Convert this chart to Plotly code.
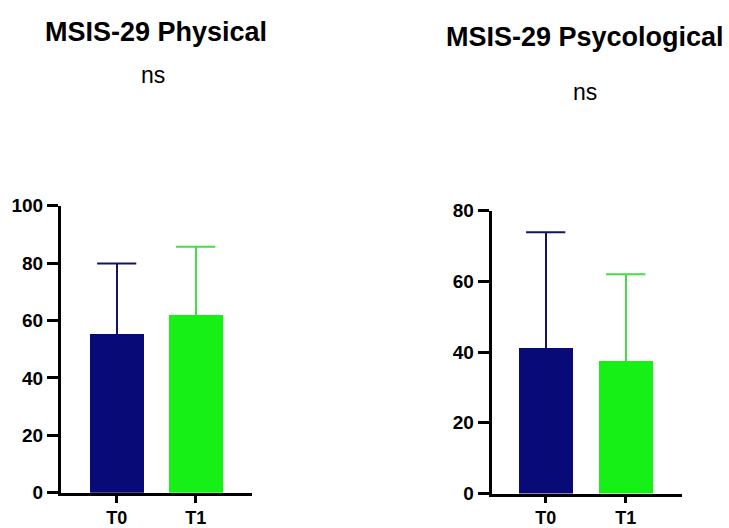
import plotly.graph_objects as go

# MSIS-29 scores, mean with upper SD whisker, at two time points
timepoints = ["T0", "T1"]
physical_mean = [55.3, 62.0]
physical_sd = [24.6, 23.7]
psych_mean = [41.2, 37.5]
psych_sd = [32.7, 24.5]

bar_colors = ["rgb(8,10,120)", "rgb(22,240,22)"]
err_colors = ["rgb(20,20,100)", "rgb(70,220,70)"]

W, H = 729, 528
FONT = "Arial, Liberation Sans, sans-serif"

fig = go.Figure()

panels = [
    ("x", "y", physical_mean, physical_sd),
    ("x2", "y2", psych_mean, psych_sd),
]
for xa, ya, means, sds in panels:
    for i, label in enumerate(timepoints):
        # bar with an upward-only whisker (no cap at the bar top)
        fig.add_trace(go.Bar(
            x=[i], y=[means[i]], width=0.68,
            marker=dict(color=bar_colors[i], line=dict(width=0)),
            error_y=dict(type="data", array=[sds[i]], arrayminus=[0],
                         symmetric=False, color=err_colors[i],
                         thickness=2, width=0),
            xaxis=xa, yaxis=ya, name=label, showlegend=False,
        ))
        # cap at mean + SD
        fig.add_trace(go.Scatter(
            x=[i], y=[means[i] + sds[i]], mode="markers",
            marker=dict(symbol="line-ew", size=28,
                        line=dict(color=err_colors[i], width=2)),
            xaxis=xa, yaxis=ya, showlegend=False, hoverinfo="skip",
        ))

axis_common = dict(showline=True, linecolor="black", linewidth=3,
                   ticks="outside", tickcolor="black", tickwidth=3,
                   showgrid=False, zeroline=False, automargin=False)

xtick_font = dict(family=FONT, size=18, color="black", weight="bold")
ytick_font = dict(family=FONT, size=19, color="black", weight="bold")

fig.update_layout(
    width=W, height=H,
    margin=dict(l=0, r=0, t=0, b=0),
    paper_bgcolor="white", plot_bgcolor="white",
    bargap=0,
    xaxis=dict(domain=[61 / W, 252 / W], range=[-0.705, 1.713],
               tickvals=[0, 1], ticktext=timepoints, ticklen=7,
               tickfont=xtick_font, anchor="y", **axis_common),
    yaxis=dict(domain=[(H - 492.7) / H, (H - 205.7) / H], range=[0, 100],
               tickvals=[0, 20, 40, 60, 80, 100], ticklen=11,
               tickfont=ytick_font, anchor="x", **axis_common),
    xaxis2=dict(domain=[491.7 / W, 681.7 / W], range=[-0.675, 1.7],
                tickvals=[0, 1], ticktext=timepoints, ticklen=6,
                tickfont=xtick_font, anchor="y2", **axis_common),
    yaxis2=dict(domain=[(H - 493.5) / H, (H - 210.7) / H], range=[0, 80],
                tickvals=[0, 20, 40, 60, 80], ticklen=11,
                tickfont=ytick_font, anchor="x2", **axis_common),
)

texts = [
    ("MSIS-29 Physical", 156, 32, 27, "bold"),
    ("ns", 153, 75, 23, "normal"),
    ("MSIS-29 Psycological", 585, 37, 27, "bold"),
    ("ns", 585, 91.5, 23, "normal"),
]
for txt, px, py, size, weight in texts:
    fig.add_annotation(
        text=txt, xref="paper", yref="paper",
        x=px / W, y=(H - py) / H, xanchor="center", yanchor="middle",
        showarrow=False,
        font=dict(family=FONT, size=size, color="black", weight=weight),
    )

fig.write_html("out.html")
